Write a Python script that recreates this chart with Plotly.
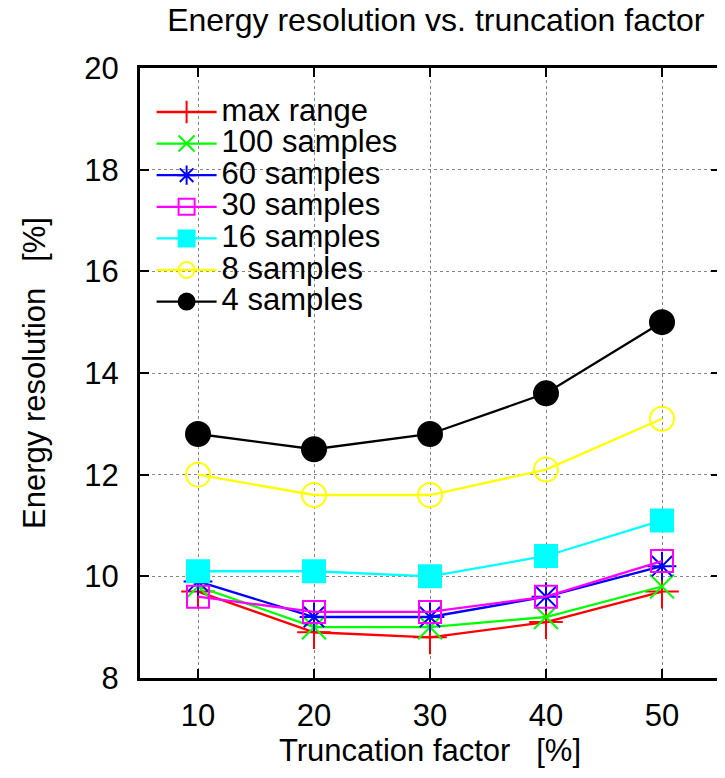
import plotly.graph_objects as go

truncation = [10, 20, 30, 40, 50]
max_range = [9.7, 8.9, 8.8, 9.1, 9.7]
s100 = [9.8, 9.0, 9.0, 9.2, 9.8]
s60 = [9.9, 9.2, 9.2, 9.6, 10.2]
s30 = [9.6, 9.3, 9.3, 9.6, 10.3]
s16 = [10.1, 10.1, 10.0, 10.4, 11.1]
s8 = [12.0, 11.6, 11.6, 12.1, 13.1]
s4 = [12.8, 12.5, 12.8, 13.6, 15.0]

names = ["max range", "100 samples", "60 samples", "30 samples", "16 samples", "8 samples", "4 samples"]
series = [max_range, s100, s60, s30, s16, s8, s4]
colors = ["#ff0000", "#00ff00", "#0000ff", "#ff00ff", "#00ffff", "#ffff00", "#000000"]
symbols = ["cross-thin-open", "x-thin-open", "asterisk-open", "square-open", "square", "circle-open", "circle"]
sizes = [24, 24, 24, 22, 22, 24, 24]

FONT = "Liberation Sans, Arial, sans-serif"
FS = 31

fig = go.Figure()
for name, ys, c, sym, sz in zip(names, series, colors, symbols, sizes):
    fig.add_trace(go.Scatter(
        x=truncation, y=ys, name=f'<span style="font-size:{FS}px">{name}</span>',
        mode="lines+markers",
        line=dict(color=c, width=2.3),
        marker=dict(symbol=sym, size=sz, color=c, line=dict(color=c, width=2)),
    ))

axis_common = dict(
    showline=True, linecolor="black", linewidth=3, mirror="ticks",
    ticks="inside", ticklen=9, tickwidth=2, tickcolor="black",
    showgrid=True, gridcolor="#888888", gridwidth=1, griddash="dot",
    zeroline=False, automargin=False,
    tickfont=dict(family=FONT, size=FS, color="black"),
)

fig.update_xaxes(range=[5, 55], tickvals=truncation, ticklabelstandoff=8,
                 title=dict(text="Truncation factor   [%]", font=dict(family=FONT, size=FS, color="black"), standoff=5),
                 **axis_common)
fig.update_yaxes(range=[8, 20], tickvals=[8, 10, 12, 14, 16, 18, 20], ticklabelstandoff=12,
                 title=dict(text="Energy resolution   [%]", font=dict(family=FONT, size=FS, color="black"), standoff=30),
                 **axis_common)

fig.update_layout(
    width=725, height=778,
    margin=dict(l=132, r=13, t=60, b=108),
    paper_bgcolor="white", plot_bgcolor="white",
    title=dict(text="Energy resolution vs. truncation factor", x=0.59, xanchor="center",
               y=0.999, yanchor="top", automargin=False, pad=dict(t=0, b=0),
               font=dict(family=FONT, size=32, color="black")),
    legend=dict(x=0.02, y=0.962, xanchor="left", yanchor="top", bgcolor="rgba(0,0,0,0)",
                font=dict(family=FONT, size=22, color="black"), itemwidth=60,
                tracegroupgap=0),
    showlegend=True,
)

fig.write_html("out.html")
